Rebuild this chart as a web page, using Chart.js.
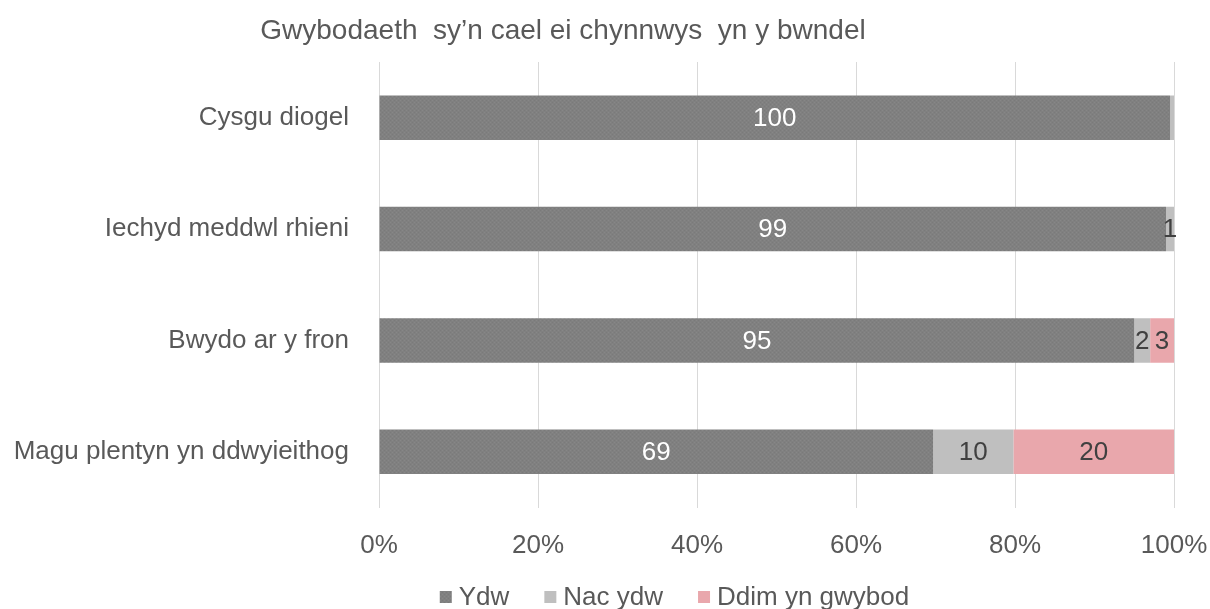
<!DOCTYPE html>
<html lang="cy">
<head>
  <meta charset="UTF-8">
  <title>Gwybodaeth yn y bwndel</title>
  <script src="https://cdn.jsdelivr.net/npm/chart.js"></script>
  <style>
    html, body { margin: 0; padding: 0; background: #fff; }
  </style>
</head>
<body>
  <canvas id="chart" width="1210" height="609"></canvas>

  <script>
    // data
    var categories = ['Cysgu diogel', 'Iechyd meddwl rhieni', 'Bwydo ar y fron', 'Magu plentyn yn ddwyieithog'];
    var ydw = [100, 99, 95, 69];
    var nacYdw = [0.5, 1, 2, 10];
    var ddim = [0, 0, 3, 20];
    var seriesNames = ['Ydw', 'Nac ydw', 'Ddim yn gwybod'];
    var titleText = 'Gwybodaeth  sy\u2019n cael ei chynnwys  yn y bwndel';

    var FONT = "'Liberation Sans', Arial, sans-serif";
    var TXT = '#595959';

    // 100% stacked: each row is scaled to its total
    function share(arr) {
      return arr.map(function (v, i) {
        var total = ydw[i] + nacYdw[i] + ddim[i];
        return v / total * 100;
      });
    }

    // light texture for the dark bars, like the original fill
    function darkFill() {
      var c = document.createElement('canvas');
      c.width = 4; c.height = 4;
      var g = c.getContext('2d');
      g.fillStyle = '#808080';
      g.fillRect(0, 0, 4, 4);
      g.fillStyle = '#878787';
      g.fillRect(0, 0, 1, 1);
      g.fillRect(2, 2, 1, 1);
      g.fillStyle = '#7a7a7a';
      g.fillRect(2, 0, 1, 1);
      g.fillRect(0, 2, 1, 1);
      return g.createPattern(c, 'repeat');
    }

    var titlePlugin = {
      id: 'titleText',
      afterDraw: function (chart) {
        var ctx = chart.ctx;
        ctx.save();
        ctx.font = '28px ' + FONT;
        ctx.fillStyle = TXT;
        ctx.textAlign = 'center';
        ctx.textBaseline = 'middle';
        ctx.fillText(titleText, 563, 31);
        ctx.restore();
      }
    };

    // legend under the axis, same look as the original (small squares)
    var legendPlugin = {
      id: 'bottomLegend',
      afterDraw: function (chart) {
        var ctx = chart.ctx;
        var box = 12, gap = 7, spacing = 35, y = 597;
        ctx.save();
        ctx.font = '26px ' + FONT;
        ctx.textBaseline = 'middle';
        var items = chart.data.datasets.map(function (ds) {
          return { text: ds.label, color: ds.backgroundColor, w: ctx.measureText(ds.label).width };
        });
        var total = 0;
        items.forEach(function (it, i) {
          total += box + gap + it.w + (i > 0 ? spacing : 0);
        });
        var x = 674.5 - total / 2;
        items.forEach(function (it) {
          ctx.fillStyle = it.color;
          ctx.fillRect(x, y - box / 2, box, box);
          ctx.fillStyle = TXT;
          ctx.fillText(it.text, x + box + gap, y + 1);
          x += box + gap + it.w + spacing;
        });
        ctx.restore();
      }
    };

    var valueLabels = {
      id: 'valueLabels',
      afterDatasetsDraw: function (chart) {
        var ctx = chart.ctx;
        ctx.save();
        ctx.font = '26px ' + FONT;
        ctx.textAlign = 'center';
        ctx.textBaseline = 'middle';
        chart.data.datasets.forEach(function (ds, di) {
          var meta = chart.getDatasetMeta(di);
          meta.data.forEach(function (bar, i) {
            var raw = ds.raw[i];
            if (raw < 1) return;
            var p = bar.getProps(['x', 'y', 'base'], true);
            ctx.fillStyle = di === 0 ? '#ffffff' : '#404040';
            ctx.fillText(String(raw), (p.x + p.base) / 2, p.y + 1);
          });
        });
        ctx.restore();
      }
    };

    var ctx = document.getElementById('chart').getContext('2d');
    var chart = new Chart(ctx, {
      type: 'bar',
      data: {
        labels: categories,
        datasets: [
          { label: seriesNames[0], data: share(ydw), raw: ydw, backgroundColor: darkFill() },
          { label: seriesNames[1], data: share(nacYdw), raw: nacYdw, backgroundColor: '#bfbfbf' },
          { label: seriesNames[2], data: share(ddim), raw: ddim, backgroundColor: '#e9a7ac' }
        ]
      },
      options: {
        responsive: false,
        animation: false,
        indexAxis: 'y',
        barPercentage: 0.8,
        categoryPercentage: 0.5,
        layout: { padding: { left: 0, right: 36, top: 62, bottom: 41.5 } },
        plugins: {
          title: { display: false },
          tooltip: { enabled: false },
          legend: { display: false }
        },
        scales: {
          x: {
            stacked: true,
            min: 0,
            max: 100,
            ticks: {
              stepSize: 20,
              padding: 23,
              color: TXT,
              font: { family: FONT, size: 26 },
              callback: function (v) { return v + '%'; }
            },
            grid: { color: '#d9d9d9', drawTicks: false },
            border: { display: false },
            afterFit: function (s) {
              s.height = 60;
              s.paddingLeft = 0;
              s.paddingRight = 0;
            }
          },
          y: {
            stacked: true,
            ticks: {
              padding: 22,
              color: TXT,
              font: { family: FONT, size: 26 }
            },
            grid: { display: false },
            border: { display: false },
            afterFit: function (s) {
              s.width = 379;
              s.paddingTop = 0;
              s.paddingBottom = 0;
            }
          }
        }
      },
      plugins: [titlePlugin, valueLabels, legendPlugin]
    });
  </script>
</body>
</html>
